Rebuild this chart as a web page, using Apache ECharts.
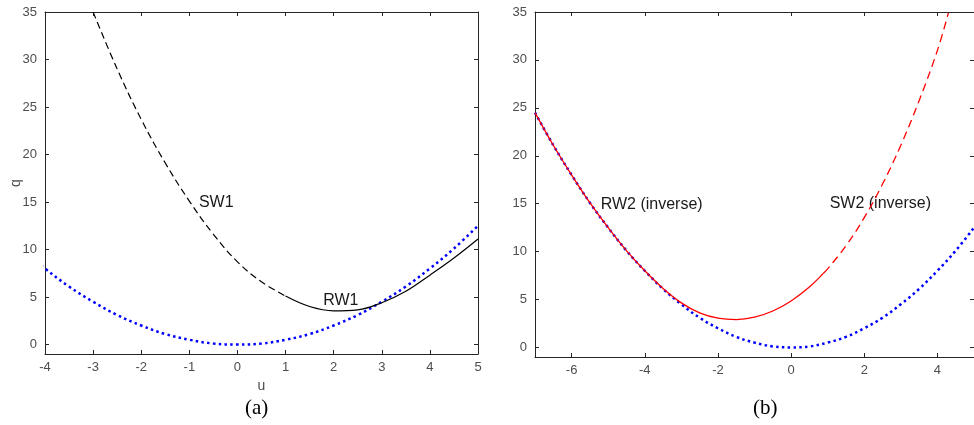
<!DOCTYPE html>
<html>
<head>
<meta charset="utf-8">
<script src="https://cdn.jsdelivr.net/npm/echarts@6/dist/echarts.min.js"></script>
<style>
  html, body { margin: 0; padding: 0; background: #fff; }
  #chart { width: 974px; height: 425px; }
</style>
</head>
<body>
<div id="chart"></div>
<script>
// blue dotted reference curve (both panels)
const blueU = [-7, -6.5, -6, -5.5, -5, -4.5, -4, -3.5, -3, -2.5, -2, -1.5, -1, -0.5, 0, 0.5, 1, 1.5, 2, 2.5, 3, 3.5, 4, 4.5, 5];
const blueQ = [24.5, 21.1, 18, 15.1, 12.5, 10.1, 8, 6.1, 4.5, 3.1, 2, 1.1, 0.5, 0.1, 0, 0.1, 0.5, 1.1, 2, 3.1, 4.5, 6.1, 8, 10.1, 12.5];

// panel (a): black curve
const sw1U = [-3, -2.5, -2, -1.5, -1, -0.5, 0, 0.5, 1];
const sw1Q = [35, 29.0, 23.7, 19.1, 15.1, 11.6, 8.7, 6.6, 5.1];
const rw1U = [1, 1.5, 2, 2.5, 3, 3.5, 4, 4.5, 5];
const rw1Q = [5.1, 4.0, 3.55, 3.65, 4.4, 5.6, 7.3, 9.1, 11.1];

// panel (b): red curve
const rw2U = [-7, -6.5, -6, -5.5, -5, -4.5, -4, -3.5, -3, -2.5, -2, -1.5, -1, -0.5, 0, 0.5, 0.9];
const rw2Q = [24.5, 21.1, 18, 15.1, 12.5, 10.1, 8, 6.15, 4.65, 3.6, 3.05, 2.9, 3.15, 3.8, 4.85, 6.3, 7.8];
const sw2U = [0.9, 1, 1.5, 2, 2.5, 3, 3.5, 4, 4.3];
const sw2Q = [7.8, 8.2, 10.6, 13.55, 17.05, 21.1, 25.75, 31.0, 34.9];

// ticks
const qTicks = [0, 5, 10, 15, 20, 25, 30, 35];
const uTicksA = [-4, -3, -2, -1, 0, 1, 2, 3, 4, 5];
const uTicksB = [-6, -4, -2, 0, 2, 4];

// text labels [u, q, text]
const labelsA = [[-0.44, 14.9, "SW1"], [2.15, 4.6, "RW1"]];
const labelsB = [[-3.81, 14.9, "RW2 (inverse)"], [2.44, 15.0, "SW2 (inverse)"]];

const axisColor = "#262626";
const textColor = "#4d4d4d";
const font = "Liberation Sans, Arial, sans-serif";

const pts = (us, qs) => us.map((u, i) => [u, qs[i]]);

function xAxisPair(gridIndex, min, max, ticks, name) {
  const base = {
    gridIndex, type: "value", min, max,
    axisLine: { show: true, onZero: false, lineStyle: { color: axisColor, width: 1 } },
    axisTick: { show: true, inside: true, length: 4, customValues: ticks, lineStyle: { color: axisColor } },
    splitLine: { show: false },
  };
  return [
    Object.assign({}, base, {
      position: "bottom",
      name: name || "",
      nameLocation: "middle",
      nameGap: 25,
      nameMoveOverlap: false,
      nameTextStyle: { color: textColor, fontSize: 14, fontFamily: font },
      axisLabel: { show: true, customValues: ticks, color: textColor, fontSize: 13, fontFamily: font, margin: 7 },
    }),
    Object.assign({}, base, { position: "top", axisLabel: { show: false } }),
  ];
}

function yAxisPair(gridIndex, name) {
  const base = {
    gridIndex, type: "value", min: -1, max: 35,
    axisLine: { show: true, onZero: false, lineStyle: { color: axisColor, width: 1 } },
    axisTick: { show: true, inside: true, length: 4, customValues: qTicks, lineStyle: { color: axisColor } },
    splitLine: { show: false },
  };
  return [
    Object.assign({}, base, {
      position: "left",
      name: name || "",
      nameLocation: "middle",
      nameGap: 22,
      nameRotate: 90,
      nameMoveOverlap: false,
      nameTextStyle: { color: textColor, fontSize: 14, fontFamily: font },
      axisLabel: { show: true, customValues: qTicks, color: textColor, fontSize: 13, fontFamily: font, margin: 8 },
    }),
    Object.assign({}, base, { position: "right", axisLabel: { show: false } }),
  ];
}

function lineSeries(xi, yi, data, color, type, width) {
  return {
    type: "line", xAxisIndex: xi, yAxisIndex: yi, data,
    showSymbol: false, symbol: "none", smooth: 0.4, silent: true,
    lineStyle: { color, type, width },
  };
}

function textSeries(xi, yi, data) {
  return {
    type: "scatter", xAxisIndex: xi, yAxisIndex: yi, data, symbolSize: 0, silent: true,
    itemStyle: { opacity: 1 },
    label: {
      show: true, position: "inside", formatter: (p) => p.value[2],
      color: "#1a1a1a", opacity: 1, textBorderWidth: 0, fontSize: 16, fontFamily: font,
    },
  };
}

const chart = echarts.init(document.getElementById("chart"), null, { renderer: "canvas" });

const option = {
  backgroundColor: "#fff",
  animation: false,
  grid: [
    { left: 45, top: 12, width: 433, height: 342 },
    { left: 535, top: 12, width: 443, height: 345 },
  ],
  xAxis: [...xAxisPair(0, -4, 5, uTicksA, "u"), ...xAxisPair(1, -7, 5, uTicksB, "")],
  yAxis: [...yAxisPair(0, "q"), ...yAxisPair(1, "")],
  series: [
    lineSeries(0, 0, pts(blueU, blueQ), "#0000ff", [2.5, 3.3], 2.5),
    lineSeries(0, 0, pts(sw1U, sw1Q), "#000000", [7, 4], 1.2),
    lineSeries(0, 0, pts(rw1U, rw1Q), "#000000", "solid", 1.2),
    textSeries(0, 0, labelsA),
    lineSeries(2, 2, pts(blueU, blueQ), "#0000ff", [2.5, 3.3], 2.5),
    lineSeries(2, 2, pts(rw2U, rw2Q), "#ff0000", "solid", 1.3),
    lineSeries(2, 2, pts(sw2U, sw2Q), "#ff0000", [8, 5], 1.3),
    textSeries(2, 2, labelsB),
  ],
  graphic: [
    { type: "text", left: 245, top: 398, style: { text: "(a)", font: "21px Liberation Serif, Times New Roman, serif", fill: "#000" } },
    { type: "text", left: 753, top: 398, style: { text: "(b)", font: "21px Liberation Serif, Times New Roman, serif", fill: "#000" } },
  ],
};

chart.setOption(option);
</script>
</body>
</html>
